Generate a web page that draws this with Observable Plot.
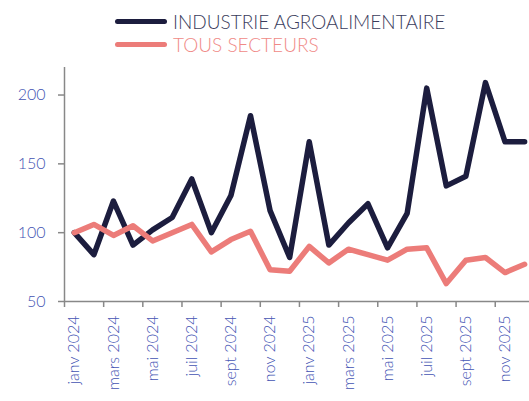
<!DOCTYPE html>
<html>
<head>
<meta charset="utf-8">
<script src="https://cdn.jsdelivr.net/npm/d3@7"></script>
<script src="https://cdn.jsdelivr.net/npm/@observablehq/plot@0.6"></script>
<style>
  html, body { margin: 0; padding: 0; background: #fff; }
  #wrap { position: relative; width: 529px; height: 401px; overflow: hidden; }
  #legend { position: absolute; left: 0; top: 0; width: 529px; font-family: Lato, "Open Sans", sans-serif; font-weight: 300; font-size: 19px; }
  .item { position: absolute; left: 115px; height: 24px; display: flex; align-items: center; white-space: nowrap; }
  .sw { width: 52px; height: 5px; border-radius: 3px; margin-right: 6px; }
</style>
</head>
<body>
<div id="wrap">
  <div id="chart"></div>
  <div id="legend"></div>
</div>
<script>
const months = ["janv 2024","févr 2024","mars 2024","avr 2024","mai 2024","juin 2024","juil 2024","août 2024","sept 2024","oct 2024","nov 2024","déc 2024",
                "janv 2025","févr 2025","mars 2025","avr 2025","mai 2025","juin 2025","juil 2025","août 2025","sept 2025","oct 2025","nov 2025","déc 2025"];
const industrie = [100, 84, 123, 91, 102, 111, 139, 100, 127, 185, 116, 82, 166, 91, 107, 121, 89, 114, 205, 134, 141, 209, 166, 166];
const tous = [100, 106, 98, 105, 94, 100, 106, 86, 95, 101, 73, 72, 90, 78, 88, 84, 80, 88, 89, 63, 80, 82, 71, 77];
const seriesNames = ["INDUSTRIE AGROALIMENTAIRE", "TOUS SECTEURS"];
const seriesColors = ["#1c1d3e", "#ec7c79"];
const legendTextColors = ["#3a3c5c", "#f08a87"];
const yTicks = [50, 100, 150, 200];

const data = [];
months.forEach((m, i) => {
  data.push({i, month: m, value: industrie[i], series: seriesNames[0]});
  data.push({i, month: m, value: tous[i], series: seriesNames[1]});
});
const labelTicks = months.map((m, i) => i).filter(i => i % 2 === 0);
const tickMarks = labelTicks.map(i => i - 0.5);

const labelColor = "#4353b3";
const chart = Plot.plot({
  width: 529,
  height: 401,
  marginLeft: 64,
  marginRight: 0,
  marginTop: 67,
  marginBottom: 100,
  style: { fontFamily: "Lato, 'Open Sans', sans-serif", fontSize: "16px", background: "#fff" },
  x: { type: "linear", domain: [-0.5, 23.25] },
  y: { domain: [50, 220] },
  color: { domain: seriesNames, range: seriesColors },
  marks: [
    Plot.axisX({ ticks: tickMarks, tickFormat: () => "", tickSize: 6, stroke: "#888", strokeWidth: 1.5, label: null }),
    Plot.axisX({ ticks: labelTicks, tickFormat: i => months[i], tickSize: 0, tickPadding: 14, tickRotate: -90, fill: labelColor, fontSize: 16, fontWeight: 300, label: null }),
    Plot.axisY({ ticks: yTicks, tickSize: 6, tickPadding: 13, stroke: "#888", strokeWidth: 1.5, fill: labelColor, fontSize: 16, fontWeight: 300, label: null }),
    Plot.ruleX([-0.5], { stroke: "#888", strokeWidth: 1.5 }),
    Plot.ruleY([50], { stroke: "#888", strokeWidth: 1.5 }),
    Plot.lineY(data, { x: "i", y: "value", stroke: "series", z: "series", strokeWidth: 5.5 })
  ]
});
document.getElementById("chart").appendChild(chart);

const legend = document.getElementById("legend");
seriesNames.forEach((name, k) => {
  const item = document.createElement("div");
  item.className = "item";
  item.style.top = (9 + k * 23) + "px";
  item.style.color = legendTextColors[k];
  const sw = document.createElement("span");
  sw.className = "sw";
  sw.style.background = seriesColors[k];
  item.appendChild(sw);
  item.appendChild(document.createTextNode(name));
  legend.appendChild(item);
});
</script>
</body>
</html>
